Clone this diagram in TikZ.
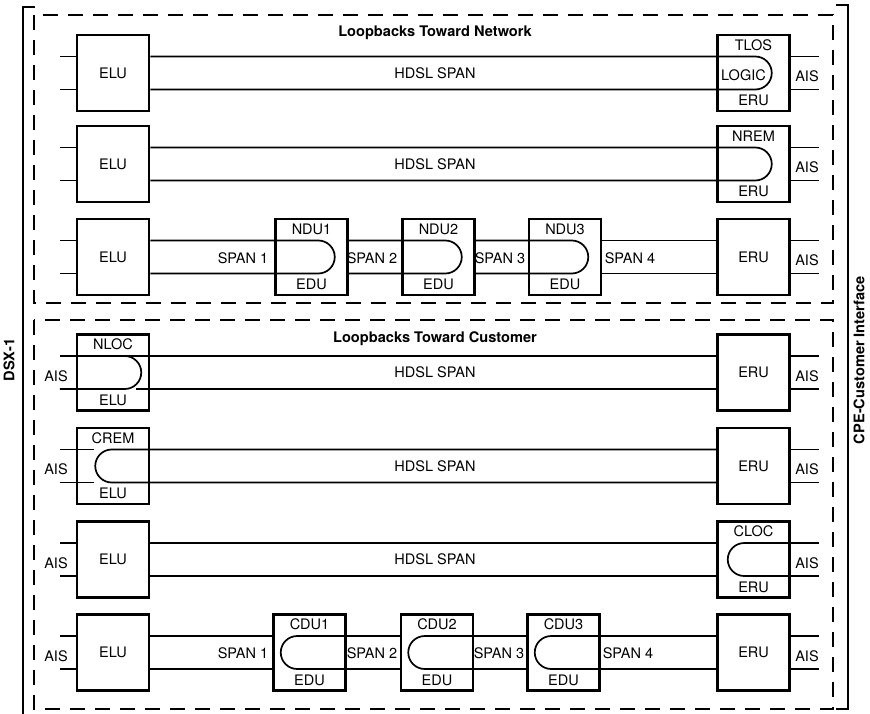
\documentclass[tikz,border=0pt]{standalone}
\usepackage{fontspec}
\setmainfont{TeX Gyre Heros}
\usetikzlibrary{calc}
\begin{document}
\begin{tikzpicture}[x=1pt,y=-1pt,
 lbl/.style={inner sep=0pt, font=\fontsize{14.5}{16}\selectfont},
 box/.style={draw, line width=2.5pt, minimum width=72pt, minimum height=76pt, inner sep=0pt, font=\fontsize{14.5}{16}\selectfont},
 ttl/.style={inner sep=0pt, font=\bfseries\fontsize{14.6}{17}\selectfont},
 wire/.style={line width=1.7pt},
 frame/.style={line width=1.6pt, dash pattern=on 15pt off 10pt},
 bracket/.style={line width=2pt}]
\useasboundingbox (0,0) rectangle (870,714);

% outer brackets and dashed frames
\draw[bracket] (35,7) -- (23,7) -- (23,714);
\draw[bracket] (836,5) -- (848,5) -- (848,709) -- (836,709);
\draw[frame] (34,15) rectangle (833,303);
\draw[frame] (34,320) rectangle (833,709);
\node[ttl, rotate=90] (dsx) at (9,360) {DSX-1};
\node[ttl, rotate=90] (cpe) at (859,360) {CPE-Customer Interface};
\node[ttl] (tnet) at (435,33) {Loopbacks Toward Network};
\node[ttl] (tcus) at (435,339) {Loopbacks Toward Customer};

% ---------- Row 1: TLOS ----------
\node[box] (elu1) at (113,73) {ELU};
\node[box] (tlos) at (753.5,73) {};
\node[lbl] (tlosT) at (753.5,45) {TLOS};
\node[lbl] (tlosL) at (743.5,75) {LOGIC};
\node[lbl] (tlosB) at (753.5,100.5) {ERU};
\node[lbl] (hdsl1) at (435,73) {HDSL SPAN};
\node[lbl] (aisR1) at (807,76) {AIS};
\draw[wire] ($(elu1.west)+(0,-16.5)$) -- +(-16,0);
\draw[wire] ($(elu1.west)+(0,16.5)$) -- +(-16,0);
\draw[wire] ($(elu1.east)+(0,-16.5)$) -- ($(tlos.west)+(39,-16.5)$) arc[start angle=-90,end angle=90,radius=16.5] -- ($(elu1.east)+(0,16.5)$);
\draw[wire] ($(tlos.east)+(0,-16.5)$) -- +(28,0);
\draw[wire] ($(tlos.east)+(0,16.5)$) -- +(28,0);

% ---------- Row 2: NREM ----------
\node[box] (elu2) at (113,164) {ELU};
\node[box] (nrem) at (753.5,164) {};
\node[lbl] (nremT) at (753.5,136) {NREM};
\node[lbl] (nremB) at (753.5,191.5) {ERU};
\node[lbl] (hdsl2) at (435,164) {HDSL SPAN};
\node[lbl] (aisR2) at (807,167) {AIS};
\draw[wire] ($(elu2.west)+(0,-16.5)$) -- +(-16,0);
\draw[wire] ($(elu2.west)+(0,16.5)$) -- +(-16,0);
\draw[wire] ($(elu2.east)+(0,-16.5)$) -- ($(nrem.west)+(39,-16.5)$) arc[start angle=-90,end angle=90,radius=16.5] -- ($(elu2.east)+(0,16.5)$);
\draw[wire] ($(nrem.east)+(0,-16.5)$) -- +(28,0);
\draw[wire] ($(nrem.east)+(0,16.5)$) -- +(28,0);

% ---------- Row 3: NDU ----------
\node[box] (elu3) at (113,257) {ELU};
\node[box] (ndu1) at (311.5,257) {};
\node[box] (ndu2) at (438.5,257) {};
\node[box] (ndu3) at (565,257) {};
\node[box] (eru3) at (753.5,257) {ERU};
\node[lbl] (ndu1T) at (311.5,229) {NDU1};
\node[lbl] (ndu1B) at (311.5,284) {EDU};
\node[lbl] (ndu2T) at (438.5,229) {NDU2};
\node[lbl] (ndu2B) at (438.5,284) {EDU};
\node[lbl] (ndu3T) at (565,229) {NDU3};
\node[lbl] (ndu3B) at (565,284) {EDU};
\node[lbl] (s31) at (243,258) {SPAN 1};
\node[lbl] (s32) at (372,258) {SPAN 2};
\node[lbl] (s33) at (500,258) {SPAN 3};
\node[lbl] (s34) at (630,258) {SPAN 4};
\node[lbl] (aisR3) at (807,260) {AIS};
\draw[wire] ($(elu3.west)+(0,-16.5)$) -- +(-16,0);
\draw[wire] ($(elu3.west)+(0,16.5)$) -- +(-16,0);
\draw[wire] ($(elu3.east)+(0,-16.5)$) -- ($(ndu1.west)+(44,-16.5)$) arc[start angle=-90,end angle=90,radius=16.5] -- ($(elu3.east)+(0,16.5)$);
\draw[wire] ($(ndu1.east)+(0,-16.5)$) -- ($(ndu2.west)+(44,-16.5)$) arc[start angle=-90,end angle=90,radius=16.5] -- ($(ndu1.east)+(0,16.5)$);
\draw[wire] ($(ndu2.east)+(0,-16.5)$) -- ($(ndu3.west)+(44,-16.5)$) arc[start angle=-90,end angle=90,radius=16.5] -- ($(ndu2.east)+(0,16.5)$);
\draw[wire] ($(ndu3.east)+(0,-16.5)$) -- ($(eru3.west)+(0,-16.5)$);
\draw[wire] ($(ndu3.east)+(0,16.5)$) -- ($(eru3.west)+(0,16.5)$);
\draw[wire] ($(eru3.east)+(0,-16.5)$) -- +(28,0);
\draw[wire] ($(eru3.east)+(0,16.5)$) -- +(28,0);

% ---------- Row 4: NLOC ----------
\node[box] (nloc) at (113,372.5) {};
\node[box] (eru4) at (753.5,372.5) {ERU};
\node[lbl] (nlocT) at (113,344.5) {NLOC};
\node[lbl] (nlocB) at (113,400) {ELU};
\node[lbl] (hdsl4) at (435,372.5) {HDSL SPAN};
\node[lbl] (aisL4) at (56,376) {AIS};
\node[lbl] (aisR4) at (807,376) {AIS};
\draw[wire] ($(nloc.west)+(-16,-16.5)$) -- ($(eru4.west)+(0,-16.5)$);
\draw[wire] ($(nloc.west)+(49,-16.5)$) arc[start angle=-90,end angle=90,radius=16.5] -- ($(nloc.west)+(-16,16.5)$);
\draw[wire] ($(nloc.west)+(60,16.5)$) -- ($(eru4.west)+(0,16.5)$);
\draw[wire] ($(eru4.east)+(0,-16.5)$) -- +(28,0);
\draw[wire] ($(eru4.east)+(0,16.5)$) -- +(28,0);

% ---------- Row 5: CREM ----------
\node[box] (crem) at (113,466) {};
\node[box] (eru5) at (753.5,466) {ERU};
\node[lbl] (cremT) at (113,438) {CREM};
\node[lbl] (cremB) at (113,493.5) {ELU};
\node[lbl] (hdsl5) at (435,466) {HDSL SPAN};
\node[lbl] (aisL5) at (56,469.5) {AIS};
\node[lbl] (aisR5) at (807,469.5) {AIS};
\draw[wire] ($(crem.west)+(-16,-16.5)$) -- ($(crem.west)+(18,-16.5)$);
\draw[wire] ($(crem.west)+(-16,16.5)$) -- ($(crem.west)+(18,16.5)$);
\draw[wire] ($(eru5.west)+(0,-16.5)$) -- ($(crem.west)+(36,-16.5)$) arc[start angle=-90,end angle=-270,radius=16.5] -- ($(eru5.west)+(0,16.5)$);
\draw[wire] ($(eru5.east)+(0,-16.5)$) -- +(28,0);
\draw[wire] ($(eru5.east)+(0,16.5)$) -- +(28,0);

% ---------- Row 6: CLOC ----------
\node[box] (elu6) at (113,559.5) {ELU};
\node[box] (cloc) at (753.5,559.5) {};
\node[lbl] (clocT) at (753.5,531.5) {CLOC};
\node[lbl] (clocB) at (753.5,587) {ERU};
\node[lbl] (hdsl6) at (435,559.5) {HDSL SPAN};
\node[lbl] (aisL6) at (56,563) {AIS};
\node[lbl] (aisR6) at (807,563) {AIS};
\draw[wire] ($(elu6.west)+(0,-16.5)$) -- +(-16,0);
\draw[wire] ($(elu6.west)+(0,16.5)$) -- +(-16,0);
\draw[wire] ($(elu6.east)+(0,-16.5)$) -- ($(cloc.west)+(0,-16.5)$);
\draw[wire] ($(elu6.east)+(0,16.5)$) -- ($(cloc.west)+(0,16.5)$);
\draw[wire] ($(cloc.east)+(28,-16.5)$) -- ($(cloc.west)+(28,-16.5)$) arc[start angle=-90,end angle=-270,radius=16.5] -- ($(cloc.east)+(28,16.5)$);

% ---------- Row 7: CDU ----------
\node[box] (elu7) at (113,652.5) {ELU};
\node[box] (cdu1) at (309.5,652.5) {};
\node[box] (cdu2) at (437,652.5) {};
\node[box] (cdu3) at (563.5,652.5) {};
\node[box] (eru7) at (753.5,652.5) {ERU};
\node[lbl] (cdu1T) at (309.5,624.5) {CDU1};
\node[lbl] (cdu1B) at (309.5,680) {EDU};
\node[lbl] (cdu2T) at (437,624.5) {CDU2};
\node[lbl] (cdu2B) at (437,680) {EDU};
\node[lbl] (cdu3T) at (563.5,624.5) {CDU3};
\node[lbl] (cdu3B) at (563.5,680) {EDU};
\node[lbl] (s71) at (243,653.5) {SPAN 1};
\node[lbl] (s72) at (372,653.5) {SPAN 2};
\node[lbl] (s73) at (499,653.5) {SPAN 3};
\node[lbl] (s74) at (628,653.5) {SPAN 4};
\node[lbl] (aisL7) at (56,656) {AIS};
\node[lbl] (aisR7) at (807,656) {AIS};
\draw[wire] ($(elu7.west)+(0,-16.5)$) -- +(-16,0);
\draw[wire] ($(elu7.west)+(0,16.5)$) -- +(-16,0);
\draw[wire] ($(elu7.east)+(0,-16.5)$) -- ($(cdu1.west)+(0,-16.5)$);
\draw[wire] ($(elu7.east)+(0,16.5)$) -- ($(cdu1.west)+(0,16.5)$);
\draw[wire] ($(cdu2.west)+(0,-16.5)$) -- ($(cdu1.west)+(25,-16.5)$) arc[start angle=-90,end angle=-270,radius=16.5] -- ($(cdu2.west)+(0,16.5)$);
\draw[wire] ($(cdu3.west)+(0,-16.5)$) -- ($(cdu2.west)+(25,-16.5)$) arc[start angle=-90,end angle=-270,radius=16.5] -- ($(cdu3.west)+(0,16.5)$);
\draw[wire] ($(eru7.west)+(0,-16.5)$) -- ($(cdu3.west)+(25,-16.5)$) arc[start angle=-90,end angle=-270,radius=16.5] -- ($(eru7.west)+(0,16.5)$);
\draw[wire] ($(eru7.east)+(0,-16.5)$) -- +(28,0);
\draw[wire] ($(eru7.east)+(0,16.5)$) -- +(28,0);
\end{tikzpicture}
\end{document}
